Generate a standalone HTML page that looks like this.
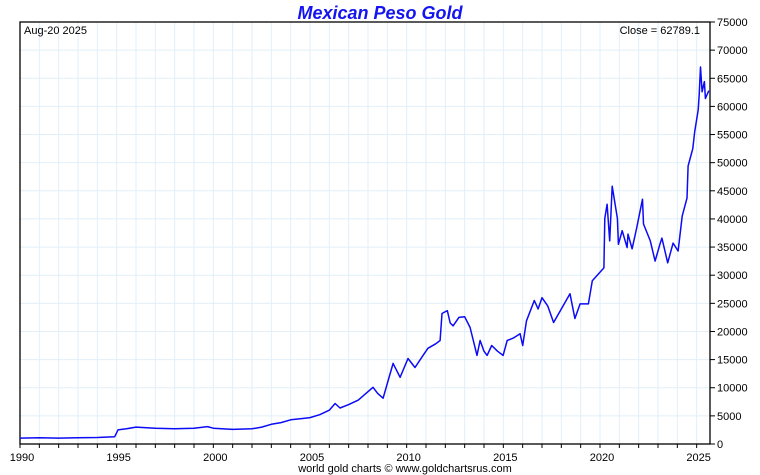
<!DOCTYPE html>
<html><head><meta charset="utf-8"><style>
body{margin:0;background:#fff;}
svg{display:block;font-family:"Liberation Sans",sans-serif;}
</style></head><body>
<svg id="chart" width="760" height="475">
<text x="380" y="19" text-anchor="middle" font-size="18" font-weight="bold" font-style="italic" fill="#1414f0">Mexican Peso Gold</text>
<g id="grid"></g>
<g id="axes"></g>
<text x="24" y="34" font-size="11" fill="#000">Aug-20  2025</text>
<text x="700" y="34" font-size="11" text-anchor="end" fill="#000">Close = 62789.1</text>
<text x="405" y="472" font-size="11" text-anchor="middle" fill="#000">world gold charts © www.goldchartsrus.com</text>
</svg>
<script>
const years=[1990,1991,1992,1993,1994,1994.9,1995.07,1995.5,1996,1997,1998,1999,1999.7,2000,2001,2002,2002.5,2003,2003.5,2004,2004.5,2005,2005.5,2006,2006.3,2006.55,2007,2007.5,2008.26,2008.5,2008.78,2009.1,2009.3,2009.66,2010.07,2010.43,2010.8,2011.1,2011.5,2011.73,2011.83,2012.1,2012.25,2012.4,2012.7,2013.0,2013.28,2013.64,2013.8,2014.0,2014.16,2014.4,2014.7,2014.99,2015.2,2015.5,2015.87,2016.0,2016.2,2016.6,2016.8,2017.0,2017.3,2017.6,2018.0,2018.45,2018.7,2018.97,2019.4,2019.6,2020.2,2020.25,2020.37,2020.5,2020.63,2020.9,2020.95,2021.15,2021.4,2021.45,2021.66,2021.9,2022.2,2022.25,2022.6,2022.85,2023.1,2023.2,2023.5,2023.78,2024.04,2024.25,2024.5,2024.56,2024.8,2024.9,2025.08,2025.13,2025.2,2025.28,2025.4,2025.45,2025.6,2025.63];
const prices=[1050,1100,1050,1100,1150,1300,2500,2700,3000,2800,2700,2800,3100,2800,2600,2700,3000,3500,3800,4300,4500,4700,5200,6000,7200,6400,7000,7800,10080,9000,8140,12000,14330,11850,15200,13600,15500,17000,17800,18400,23200,23700,21500,21000,22500,22600,20700,15750,18400,16500,15750,17500,16500,15750,18400,18800,19600,17500,21900,25500,24000,26000,24500,21600,24000,26700,22300,24900,24900,29000,31300,40100,42600,36100,45800,40100,35500,37900,34900,37300,34700,38400,43500,39100,36100,32500,35500,36600,32200,35700,34300,40500,43700,49400,52500,55500,59400,62100,67000,62600,64400,61400,62600,62789];
const xTicks=[1990,1995,2000,2005,2010,2015,2020,2025];
const yTicks=[0,5000,10000,15000,20000,25000,30000,35000,40000,45000,50000,55000,60000,65000,70000,75000];
const L=20,R=710,T=22,B=444;
const X=y=>L+(y-1990)*19.333;
const Y=v=>B-v/75000*(B-T);
const NS="http://www.w3.org/2000/svg";
const grid=document.getElementById('grid'),axes=document.getElementById('axes');
function mk(p,tag,attrs){const e=document.createElementNS(NS,tag);for(const k in attrs)e.setAttribute(k,attrs[k]);p.appendChild(e);return e;}
for(let yr=1991;yr<=2025;yr++){const l=mk(grid,'line',{x1:X(yr),x2:X(yr),y1:T,y2:B,stroke:'#e2eff9','stroke-width':1});

}
for(let v=5000;v<75000;v+=5000){const l=mk(grid,'line',{x1:L,x2:R,y1:Y(v),y2:Y(v),stroke:'#e2eff9','stroke-width':1});

}
const fr=mk(axes,'rect',{x:L,y:T,width:R-L,height:B-T,fill:'none',stroke:'#000','stroke-width':1.3});


for(let yr=1990;yr<=2025;yr++){const t=mk(axes,'line',{x1:X(yr),x2:X(yr),y1:B,y2:B+4,stroke:'#000'});

}
xTicks.forEach(yr=>{const t=mk(axes,'text',{x:X(yr)+2,y:B+17,'font-size':11,'text-anchor':'middle'});t.textContent=yr;

});
yTicks.forEach(v=>{const t=mk(axes,'line',{x1:R,x2:R+5,y1:Y(v),y2:Y(v),stroke:'#000'});


const s=mk(axes,'text',{x:R+7,y:Y(v)+4,'font-size':11});s.textContent=v;

});
const pts=years.map((y,i)=>X(y).toFixed(1)+','+Y(prices[i]).toFixed(1)).join(' ');
const line=mk(axes,'polyline',{points:pts,fill:'none',stroke:'#0b0bf5','stroke-width':1.5,'stroke-linejoin':'round'});


</script>
</body></html>
